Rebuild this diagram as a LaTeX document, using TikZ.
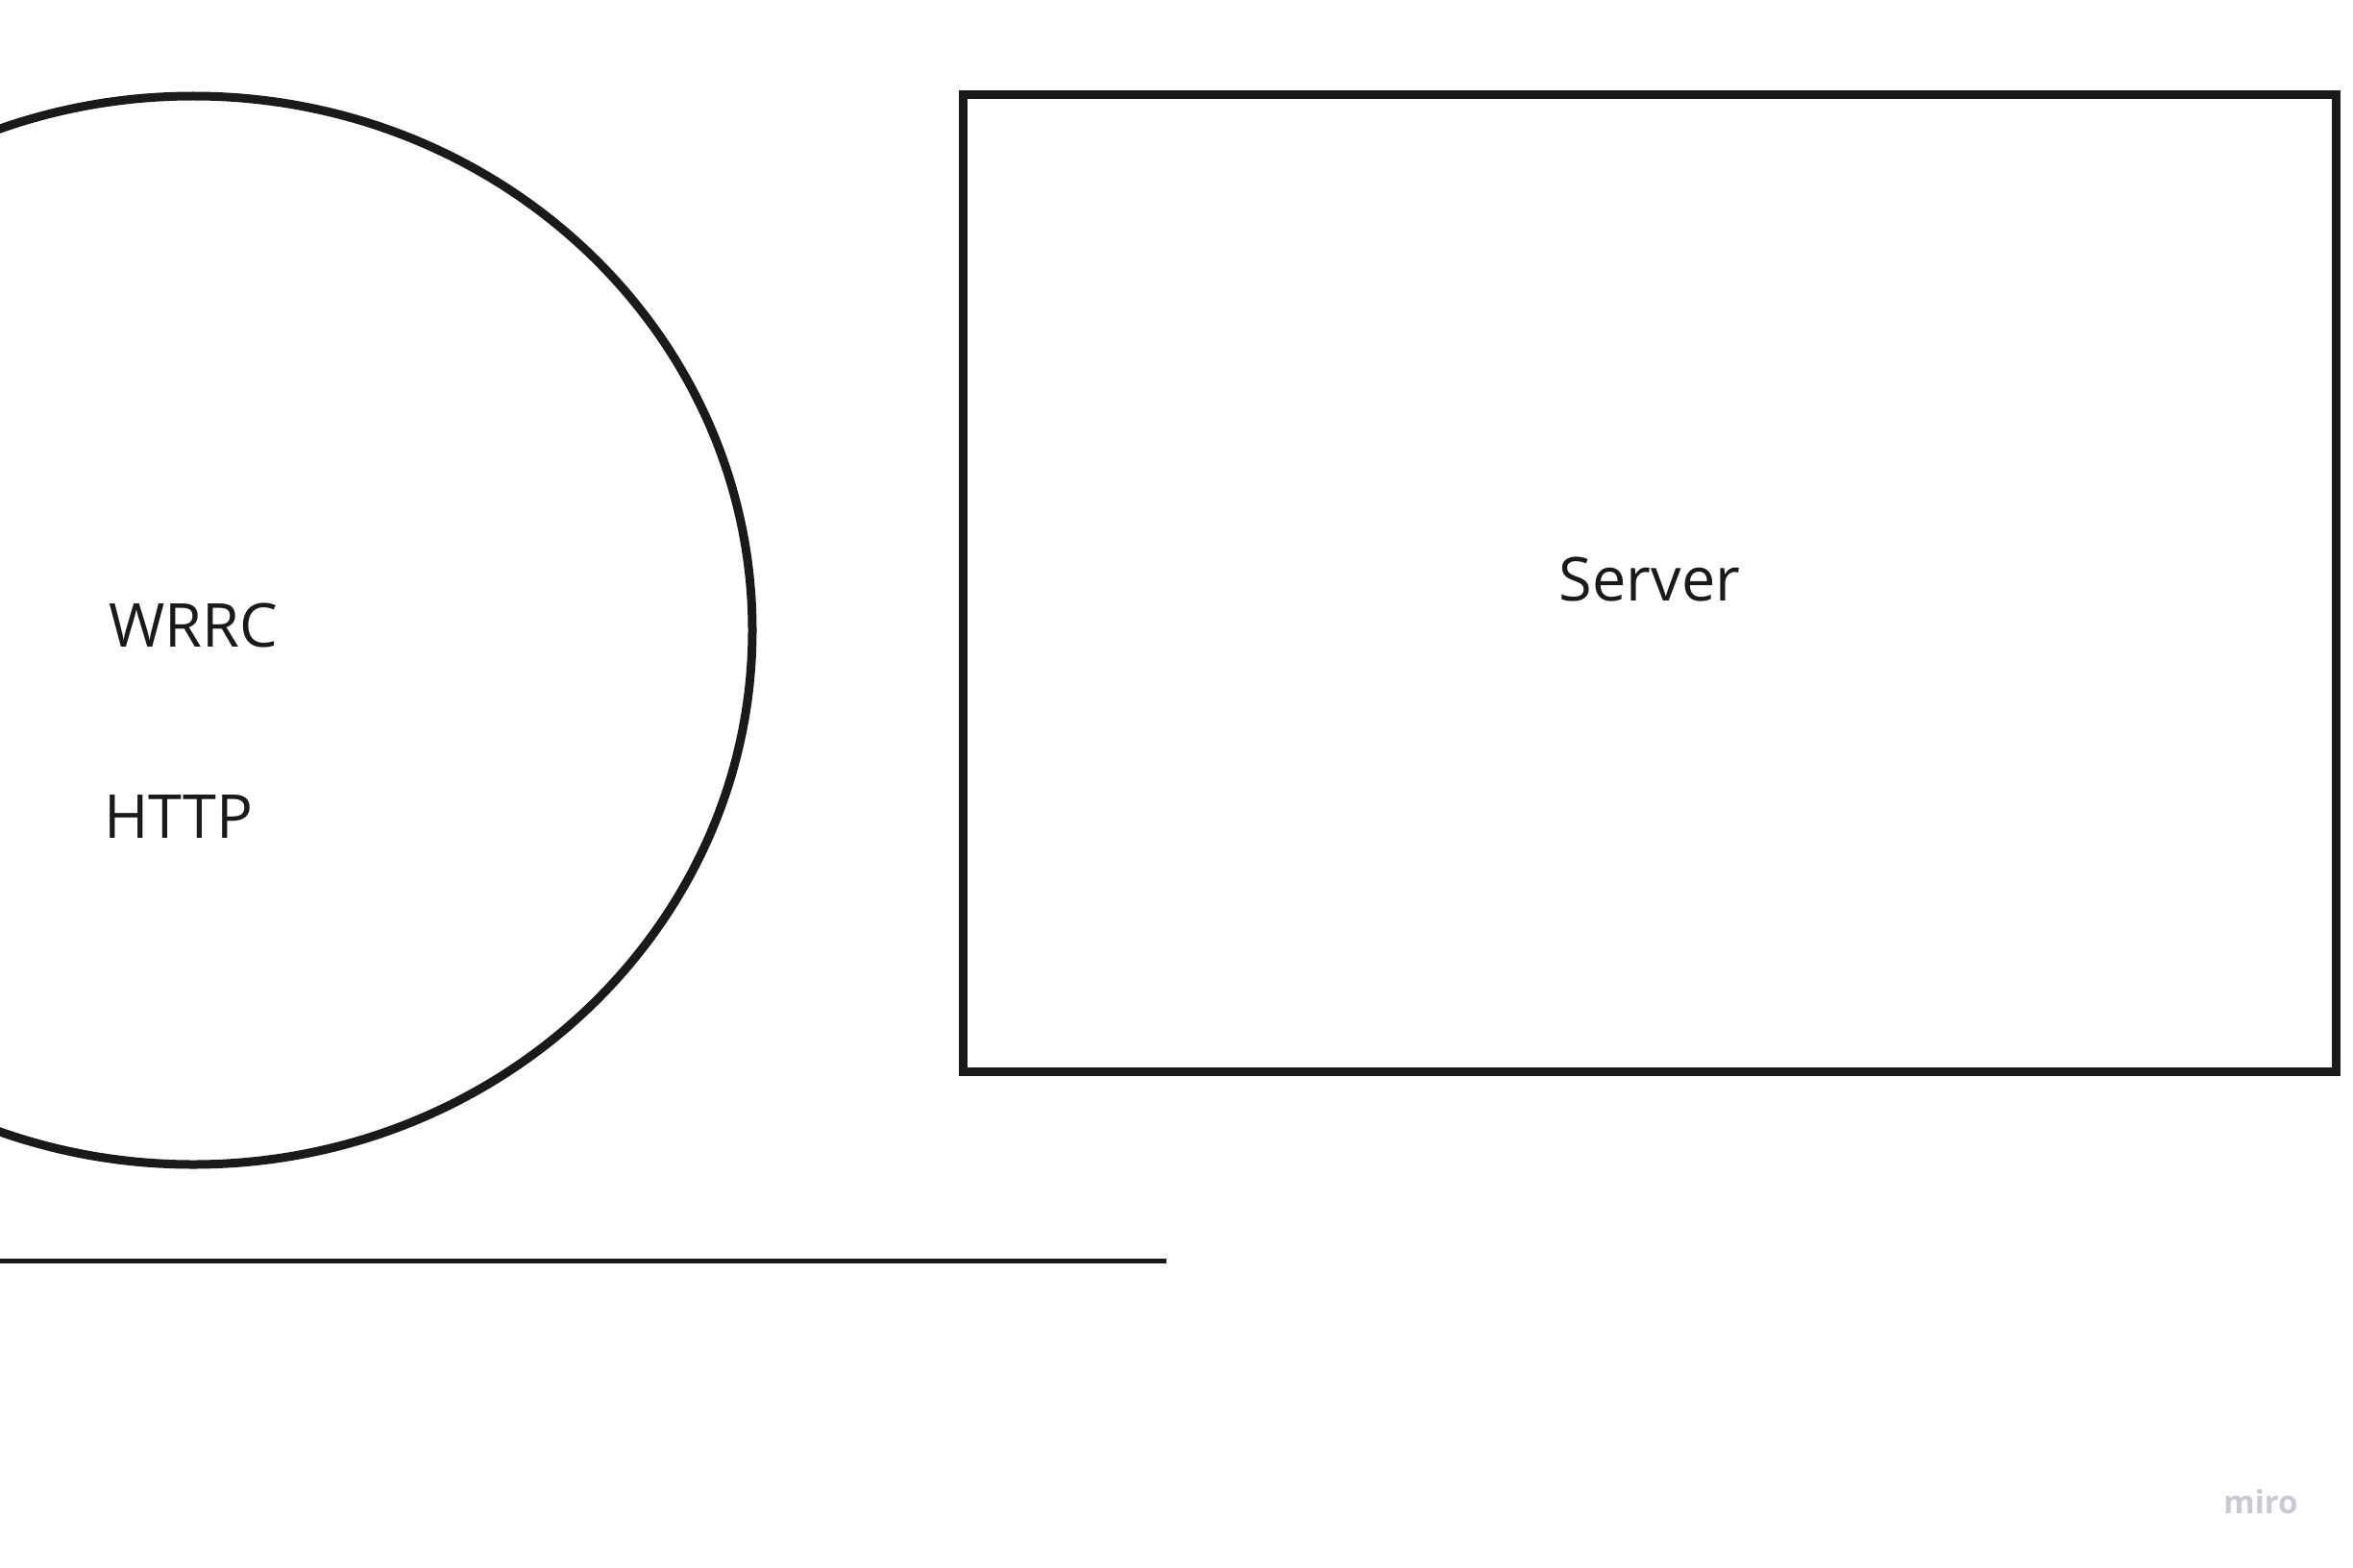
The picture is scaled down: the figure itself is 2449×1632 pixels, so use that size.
\documentclass[tikz,border=0pt]{standalone}
\usepackage{fontspec}
\setmainfont{Open Sans}
\definecolor{ink}{HTML}{1A1A1A}
\definecolor{mirogray}{HTML}{C9C9D6}
\begin{document}
\begin{tikzpicture}[x=1pt,y=-1pt,
  shapeline/.style={draw=ink,line width=9pt},
  label/.style={inner sep=0pt,text=ink,font=\fontsize{63}{70}\selectfont}]
\useasboundingbox (0,0) rectangle (2449,1632);
\clip (0,0) rectangle (2449,1632);
\fill[white] (0,0) rectangle (2449,1632);
\draw[shapeline] (201,656) ellipse [x radius=582, y radius=556];
\node[shapeline,draw,rectangle,minimum width=1429pt,minimum height=1017pt,inner sep=0pt,line width=9pt] (server) at (1717,607) {};
\node[label,anchor=base] (srvtext) at (1717,625) {Server};
\node[label,anchor=base] (wrrc) at (201,673) {WRRC};
\node[label,anchor=base west] (http) at (108,872) {HTTP};
\coordinate (lineL) at (0,1312);
\coordinate (lineR) at (1214,1312);
\draw[draw=ink,line width=5pt] (lineL) -- (lineR);
\node[inner sep=0pt,anchor=base,text=mirogray,font=\fontsize{33}{36}\selectfont\bfseries] (miro) at (2353,1575) {miro};
\end{tikzpicture}
\end{document}
